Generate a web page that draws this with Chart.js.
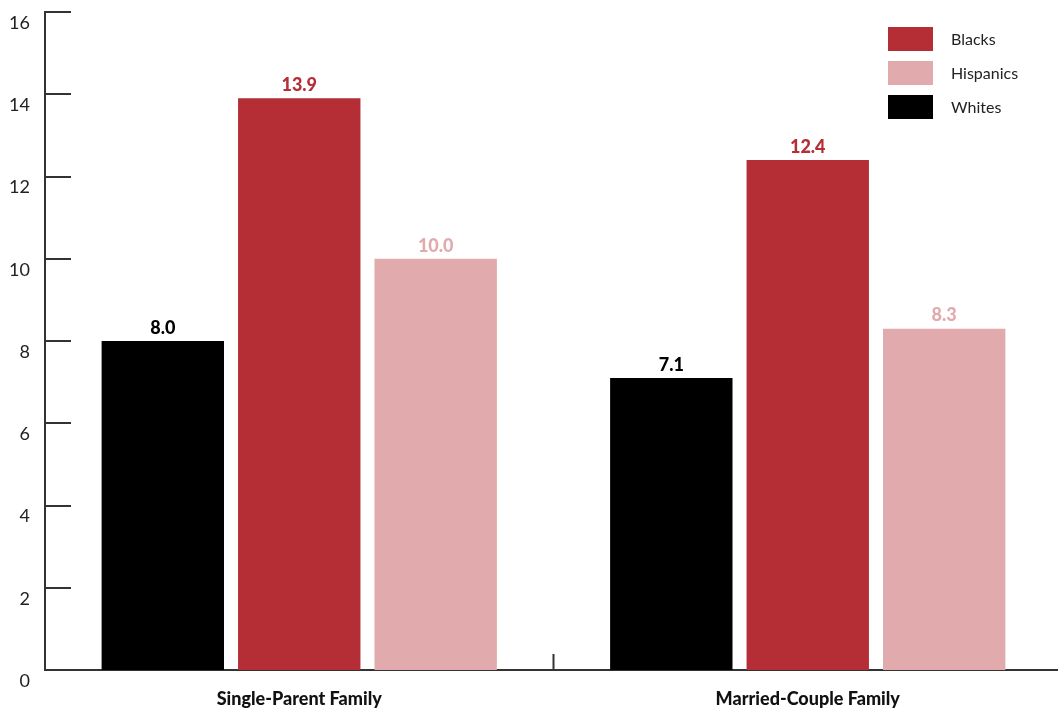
<!DOCTYPE html>
<html>
<head>
<meta charset="utf-8">
<script src="https://cdn.jsdelivr.net/npm/chart.js@4/dist/chart.umd.min.js"></script>
<style>
html, body { margin: 0; padding: 0; background: #fff; overflow: hidden; }
#wrap { width: 1058px; height: 708px; overflow: hidden; }
</style>
</head>
<body>
<div id="wrap"><canvas id="chart" width="1062" height="708"></canvas></div>
<script>
var categories = ['Single-Parent Family', 'Married-Couple Family'];
var whites = [8.0, 7.1];
var blacks = [13.9, 12.4];
var hispanics = [10.0, 8.3];
var yTicks = [0, 2, 4, 6, 8, 10, 12, 14, 16];
var legendOrder = ['Blacks', 'Hispanics', 'Whites'];

var colors = { Whites: '#000000', Blacks: '#b52e36', Hispanics: '#e1abae' };
var axisColor = '#333333';
var font = 'Lato, "Open Sans", sans-serif';

// inner tick marks, category divider, value labels and legend
var decor = {
    id: 'decor',
    afterDatasetsDraw: function(chart){
        var ctx = chart.ctx, area = chart.chartArea,
            y = chart.scales.y, x = chart.scales.x;
        ctx.save();
        ctx.strokeStyle = axisColor;
        ctx.lineWidth = 2;
        yTicks.forEach(function(v){
            if(v === 0) return;
            var py = Math.round(y.getPixelForValue(v));
            ctx.beginPath();
            ctx.moveTo(area.left, py);
            ctx.lineTo(area.left + 26, py);
            ctx.stroke();
        });
        var mid = (x.getPixelForValue(0) + x.getPixelForValue(1)) / 2;
        ctx.beginPath();
        ctx.moveTo(mid, area.bottom);
        ctx.lineTo(mid, area.bottom - 16);
        ctx.stroke();

        ctx.font = '900 18px ' + font;
        ctx.textAlign = 'center';
        ctx.textBaseline = 'bottom';
        chart.data.datasets.forEach(function(ds, i){
            chart.getDatasetMeta(i).data.forEach(function(bar, j){
                ctx.fillStyle = ds.backgroundColor;
                ctx.fillText(ds.data[j].toFixed(1), bar.x, bar.y - 4);
            });
        });

        ctx.font = '16px ' + font;
        ctx.textAlign = 'left';
        ctx.textBaseline = 'middle';
        legendOrder.forEach(function(name, k){
            var top = 27 + k * 34;
            ctx.fillStyle = colors[name];
            ctx.fillRect(888, top, 45, 24);
            ctx.fillStyle = '#222';
            ctx.fillText(name, 951, top + 13);
        });
        ctx.restore();
    }
};

new Chart(document.getElementById('chart').getContext('2d'), {
    type: 'bar',
    data: {
        labels: categories,
        datasets: [
            { label: 'Whites', data: whites, backgroundColor: colors.Whites },
            { label: 'Blacks', data: blacks, backgroundColor: colors.Blacks },
            { label: 'Hispanics', data: hispanics, backgroundColor: colors.Hispanics }
        ]
    },
    options: {
        responsive: false,
        animation: false,
        devicePixelRatio: 1,
        categoryPercentage: 0.805,
        barPercentage: 0.897,
        layout: { padding: { top: 12, right: 0, left: 0, bottom: 0 } },
        plugins: {
            legend: { display: false },
            tooltip: { enabled: false }
        },
        scales: {
            x: {
                grid: { display: false, drawTicks: false },
                border: { display: true, color: axisColor, width: 2 },
                ticks: {
                    color: '#111',
                    font: { family: font, size: 18, weight: '900' },
                    padding: 18
                },
                afterFit: function(s){ s.height = 38; s.paddingLeft = 0; s.paddingRight = 0; }
            },
            y: {
                min: 0,
                max: 16,
                afterBuildTicks: function(s){
                    s.ticks = yTicks.map(function(v){ return { value: v }; });
                },
                grid: { display: false, drawTicks: false },
                border: { display: true, color: axisColor, width: 2 },
                ticks: {
                    color: '#222',
                    font: { family: font, size: 18 },
                    padding: 15,
                    labelOffset: 11
                },
                afterFit: function(s){ s.width = 45; s.paddingTop = 0; s.paddingBottom = 0; }
            }
        }
    },
    plugins: [decor]
});
</script>
</body>
</html>
